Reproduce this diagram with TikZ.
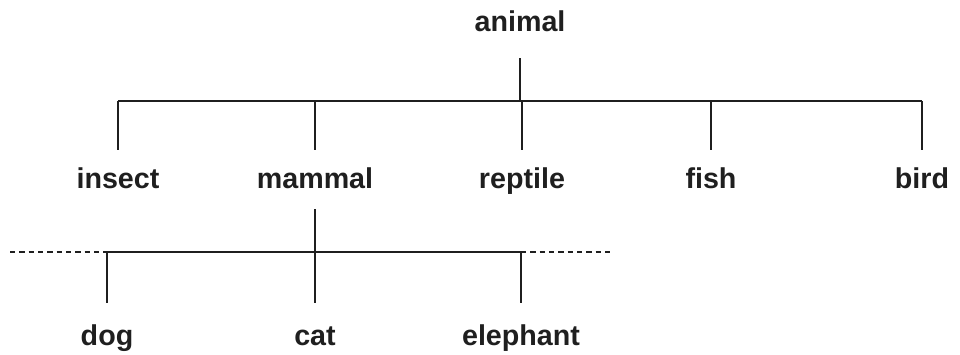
\documentclass[tikz,border=0pt]{standalone}
\usepackage{fontspec}
\setmainfont{Liberation Sans}
\tikzset{lbl/.style={font=\bfseries\fontsize{21.5}{25}\selectfont, anchor=base, inner sep=0pt, text height=13.5pt, text depth=0pt}}
\begin{document}
\begin{tikzpicture}[x=.75pt,y=-.75pt,line width=1.5pt,color={black!88}]
\useasboundingbox (0,0) rectangle (960,354);
\node [lbl] (animal) at (520,31) {animal};

\node [lbl] (insect) at (118,188) {insect};
\node [lbl] (mammal) at (315,188) {mammal};
\node [lbl] (reptile) at (522,188) {reptile};
\node [lbl] (fish) at (711,188) {fish};
\node [lbl] (bird) at (922,188) {bird};

\node [lbl] (dog) at (107,345) {dog};
\node [lbl] (cat) at (315,345) {cat};
\node [lbl] (elephant) at (521,345) {elephant};

\coordinate (bar) at (0,101);
\coordinate (subbar) at (0,252);
\coordinate (leftend) at (10,252);
\coordinate (rightend) at (613,252);

\draw [shorten <=19.5pt] (animal.south) -- (animal |- bar);
\draw (insect |- bar) -- (bird |- bar);
\foreach \n in {insect,mammal,reptile,fish,bird}
  \draw [shorten >=14.25pt] (\n |- bar) -- (\n.north);

\draw [shorten <=15pt,shorten >=17pt] (mammal.south) -- (cat.north);
\draw (dog |- subbar) -- (elephant |- subbar);
\draw [dash pattern=on 4pt off 3pt] (leftend) -- (dog |- subbar);
\draw [dash pattern=on 4pt off 3pt] (elephant |- subbar) -- (rightend);
\foreach \n in {dog,elephant}
  \draw [shorten >=17pt] (\n |- subbar) -- (\n.north);
\end{tikzpicture}
\end{document}
